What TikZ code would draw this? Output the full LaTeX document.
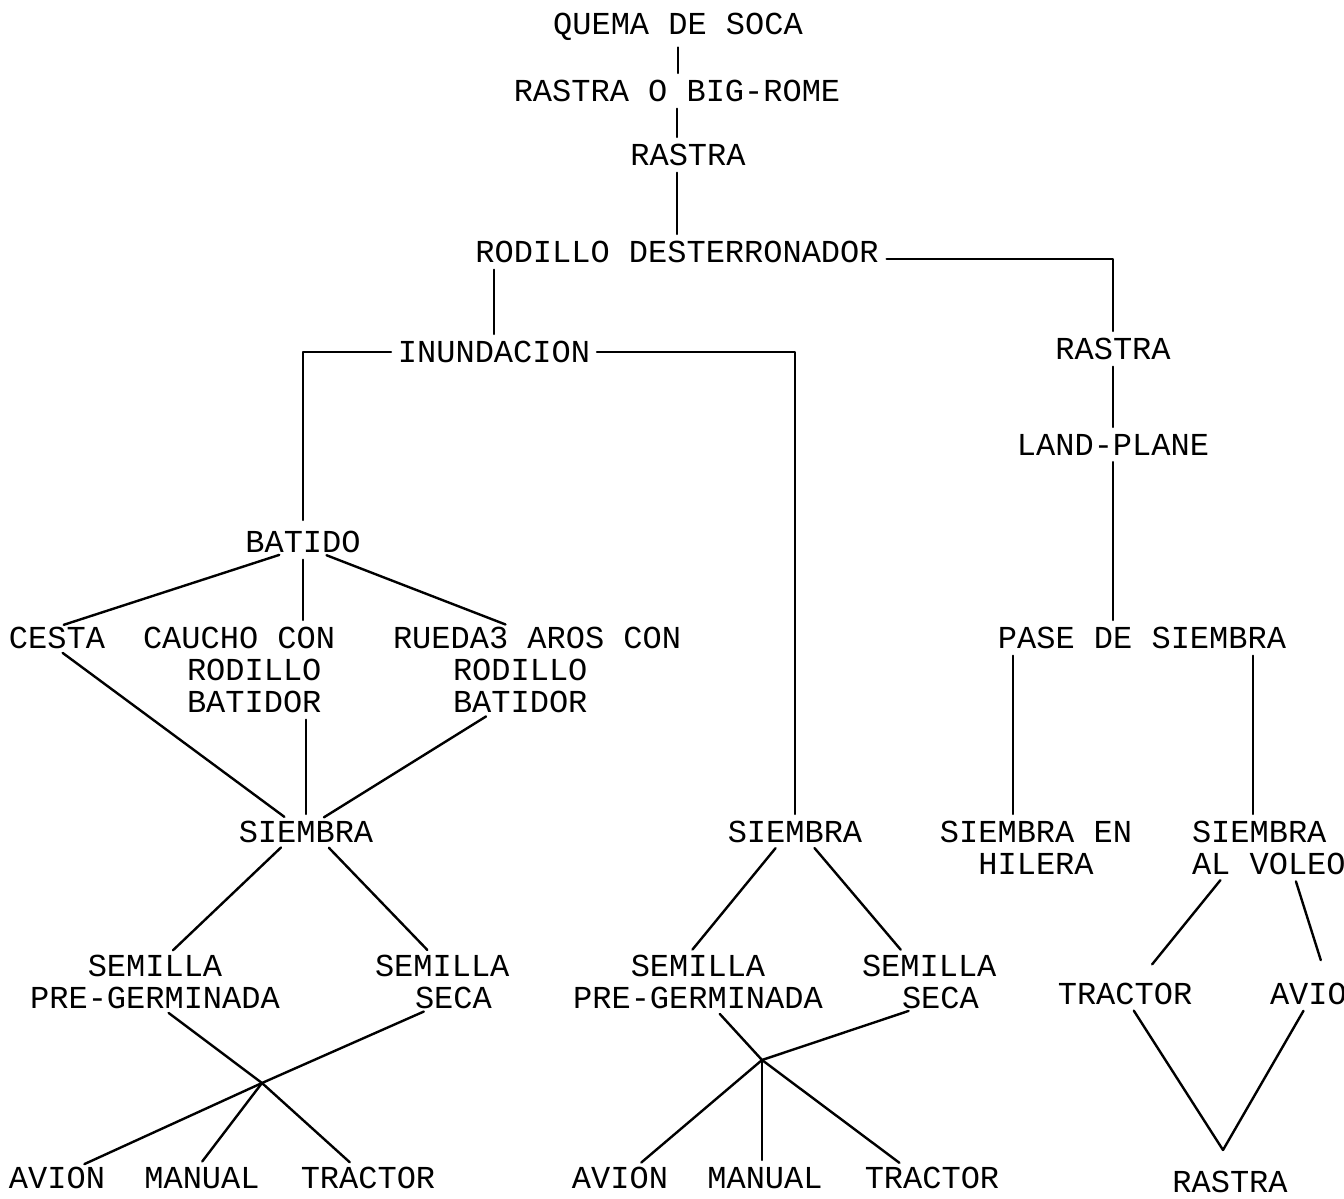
\documentclass[tikz,border=0pt]{standalone}
\usepackage{fontspec}
\setmonofont{Liberation Mono}

\begin{document}
\begin{tikzpicture}[x=1pt, y=-1pt, line width=2.4pt, line cap=round, line join=round,
  etiq/.style={font=\ttfamily\fontsize{32}{32}\selectfont, inner sep=0pt, outer sep=0pt, anchor=north},
  lien/.style={line width=2.4pt, shorten <=7pt, shorten >=7pt}]

  %% ════ 标签（anchor=north 放在大写字母顶端）════
  \node[etiq] (quema)    at (678,13)  {QUEMA DE SOCA};
  \node[etiq] (bigrome)  at (677,80)  {RASTRA O BIG-ROME};
  \node[etiq] (rastraA)  at (688,144) {RASTRA};
  \node[etiq] (rodillo)  at (677,241) {RODILLO DESTERRONADOR};
  \node[etiq] (inund)    at (494,341) {INUNDACION};
  \node[etiq] (rastraB)  at (1113,338) {RASTRA};
  \node[etiq] (landp)    at (1113,434) {LAND-PLANE};
  \node[etiq] (batido)   at (303,531) {BATIDO};
  \node[etiq] (cesta)    at (57,627)  {CESTA};
  \node[etiq, anchor=north west, align=left] (caucho) at (143,627)
       {CAUCHO CON\\\hspace*{44pt}RODILLO\\\hspace*{44pt}BATIDOR};
  \node[etiq, anchor=north west, align=left] (rueda) at (393,627)
       {RUEDA3 AROS CON\\\hspace*{60pt}RODILLO\\\hspace*{60pt}BATIDOR};
  \node[etiq] (pase)     at (1142,627) {PASE DE SIEMBRA};
  \node[etiq] (siembraA) at (306,821) {SIEMBRA};
  \node[etiq] (siembraB) at (795,821) {SIEMBRA};
  \node[etiq, align=center] (hilera) at (1036,821) {SIEMBRA EN\\HILERA};
  \node[etiq, anchor=north west, align=left] (voleo) at (1192,821) {SIEMBRA\\AL VOLEO};
  \node[etiq, align=center] (semPA) at (155,955) {SEMILLA\\PRE-GERMINADA};
  \node[etiq, anchor=north west, align=left] (semSA) at (375,955) {SEMILLA\\\hspace*{40pt}SECA};
  \node[etiq, align=center] (semPB) at (698,955) {SEMILLA\\PRE-GERMINADA};
  \node[etiq, anchor=north west, align=left] (semSB) at (862,955) {SEMILLA\\\hspace*{40pt}SECA};
  \node[etiq] (trC)      at (1125,983) {TRACTOR};
  \node[etiq] (avC)      at (1318,983) {AVION};
  \node[etiq] (avA)      at (57,1167)  {AVION};
  \node[etiq] (maA)      at (202,1167) {MANUAL};
  \node[etiq] (trA)      at (368,1167) {TRACTOR};
  \node[etiq] (avB)      at (620,1167) {AVION};
  \node[etiq] (maB)      at (765,1167) {MANUAL};
  \node[etiq] (trB)      at (932,1167) {TRACTOR};
  \node[etiq] (rastraC)  at (1230,1171) {RASTRA};

  %% 交叉点（两条斜线在此相交）
  \coordinate (jA) at (262,1083);
  \coordinate (jB) at (762,1060);
  \coordinate (jC) at (1223,1150);   % RASTRA 上方的 V 顶点

  %% ════ 主干竖线 ════
  \draw[lien] (quema.south) -- (quema.south |- bigrome.north);
  \draw[lien] (bigrome.south) -- (bigrome.south |- rastraA.north);
  \draw[lien] (rastraA.south -| rodillo.north) -- (rodillo.north);
  \draw[lien] (inund.north |- rodillo.south) -- (inund.north);

  %% ════ 右支 ════
  \draw[lien, shorten <=8pt] ([yshift=4pt]rodillo.south east) -| (rastraB.north);
  \draw[lien] (rastraB.south) -- (landp.north);
  \draw[lien] (landp.south) -- (landp.south |- pase.north);
  \draw[lien] ([xshift=-23pt]hilera.north |- pase.south) -- ([xshift=-23pt]hilera.north);
  \draw[lien] ([xshift=-16pt]voleo.north |- pase.south) -- ([xshift=-16pt]voleo.north);
  \draw[lien, shorten >=24pt] ([xshift=-44pt]voleo.south) -- ([xshift=12pt]trC.north);
  \draw[lien, shorten >=24pt] ([xshift=25pt]voleo.south) -- ([xshift=10pt]avC.north);
  \draw[lien, shorten >=0pt] ([xshift=5pt]trC.south) -- (jC);
  \draw[lien, shorten >=0pt] ([xshift=-11pt]avC.south) -- (jC);

  %% ════ INUNDACION 两侧 ════
  \draw[lien, shorten >=11pt] (inund.west) -| (batido.north);
  \draw[lien] (inund.east) -| (siembraB.north);

  %% ════ BATIDO 分支 ════
  \draw[lien] ([xshift=-17pt]batido.south) -- (cesta.north);
  \draw[lien] (batido.south) -- (batido.south |- caucho.north);
  \draw[lien] ([xshift=17pt]batido.south) -- ([xshift=-25pt]rueda.north);
  \draw[lien] (cesta.south) -- ([xshift=-16pt]siembraA.north);
  \draw[lien] (siembraA.north |- caucho.south) -- (siembraA.north);
  \draw[lien] ([xshift=-45pt]rueda.south) -- ([xshift=12pt]siembraA.north);

  %% ════ 左 SIEMBRA ════
  \draw[lien] ([xshift=-20pt]siembraA.south) -- ([xshift=13pt]semPA.north);
  \draw[lien] ([xshift=18pt]siembraA.south) -- ([xshift=-10pt]semSA.north);
  \draw[lien, shorten >=0pt] ([xshift=8pt]semPA.south) -- (jA);
  \draw[lien, shorten <=0pt] (jA) -- ([xshift=-13pt]trA.north);
  \draw[lien, shorten >=0pt] ([xshift=-12pt]semSA.south) -- (jA);
  \draw[lien, shorten <=0pt] (jA) -- ([xshift=21pt]avA.north);
  \draw[lien, shorten <=0pt] (jA) -- ([xshift=-4pt]maA.north);

  %% ════ 中 SIEMBRA ════
  \draw[lien] ([xshift=-15pt]siembraB.south) -- ([xshift=-10pt]semPB.north);
  \draw[lien] ([xshift=15pt]siembraB.south) -- ([xshift=-24pt]semSB.north);
  \draw[lien, shorten >=0pt] ([xshift=17pt]semPB.south) -- (jB);
  \draw[lien, shorten >=0pt] ([xshift=-14pt]semSB.south) -- (jB);
  \draw[lien, shorten <=0pt] (jB) -- ([xshift=-27pt]trB.north);
  \draw[lien, shorten <=0pt] (jB) -- ([xshift=16pt]avB.north);
  \draw[lien, shorten <=0pt] (jB) -- (jB |- maB.north);

  % 钉死画布
  \pgfresetboundingbox
  \path[use as bounding box] (0,0) rectangle (1344,1199);
\end{tikzpicture}
\end{document}
